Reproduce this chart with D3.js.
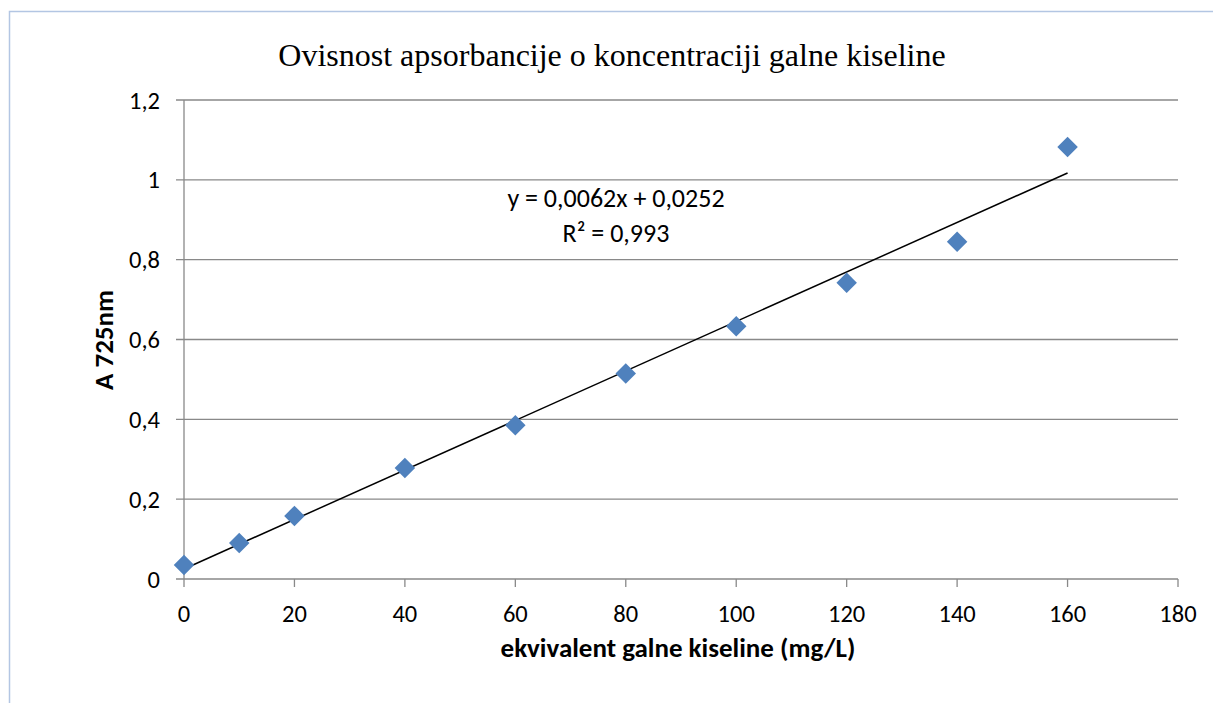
<!DOCTYPE html>
<html>
<head>
<meta charset="utf-8">
<script src="https://cdn.jsdelivr.net/npm/d3@7"></script>
<style>
  body { margin: 0; background: #fff; }
  svg { display: block; }
</style>
</head>
<body>
<script>
// concentration of gallic acid (mg/L) and absorbance at 725 nm
var conc = [0, 10, 20, 40, 60, 80, 100, 120, 140, 160];
var absorb = [0.035, 0.090, 0.158, 0.278, 0.385, 0.515, 0.633, 0.742, 0.845, 1.082];
var xTicks = [0, 20, 40, 60, 80, 100, 120, 140, 160, 180];
var yTicks = [0, 0.2, 0.4, 0.6, 0.8, 1, 1.2];
var slope = 0.0062;
var intercept = 0.0252;
var eqLines = ["y = 0,0062x + 0,0252", "R\u00b2 = 0,993"];

var W = 1213, H = 703;
var svg = d3.select("body").append("svg").attr("width", W).attr("height", H);

// outer chart border (light blue)
svg.append("rect")
  .attr("x", 9.5).attr("y", 11.5)
  .attr("width", W + 20).attr("height", H + 20)
  .attr("fill", "none").attr("stroke", "#b3c6e3").attr("stroke-width", 1.5);

var xScale = d3.scaleLinear().domain([0, 180]).range([184, 1178]);
var yScale = d3.scaleLinear().domain([0, 1.2]).range([579, 100]);
var fmt = function(v) { return String(+v.toFixed(1)).replace(".", ","); };

var grid = "#898989";

// horizontal gridlines (with the small left tick)
svg.selectAll("line.grid").data(yTicks).enter().append("line")
  .attr("class", "grid")
  .attr("x1", 176).attr("x2", 1178)
  .attr("y1", function(d) { return yScale(d); })
  .attr("y2", function(d) { return yScale(d); })
  .attr("stroke", grid).attr("stroke-width", 1.3);

// y axis line
svg.append("line")
  .attr("x1", 184).attr("x2", 184).attr("y1", 100).attr("y2", 579)
  .attr("stroke", grid).attr("stroke-width", 1.3);

// x ticks
svg.selectAll("line.xt").data(xTicks).enter().append("line")
  .attr("class", "xt")
  .attr("x1", function(d) { return xScale(d); })
  .attr("x2", function(d) { return xScale(d); })
  .attr("y1", 579).attr("y2", 587)
  .attr("stroke", grid).attr("stroke-width", 1.3);

var sans = "Carlito, 'Open Sans', 'Liberation Sans', sans-serif";

// tick labels
svg.selectAll("text.xl").data(xTicks).enter().append("text")
  .attr("x", function(d) { return xScale(d); })
  .attr("y", 622)
  .attr("text-anchor", "middle")
  .style("font-family", sans).style("font-size", "24.5px")
  .text(function(d) { return d; });

svg.selectAll("text.yl").data(yTicks).enter().append("text")
  .attr("x", 160)
  .attr("y", function(d) { return yScale(d) + 8.5; })
  .attr("text-anchor", "end")
  .style("font-family", sans).style("font-size", "24.5px")
  .text(function(d) { return fmt(d); });

// trend line
var line = d3.line()
  .x(function(d) { return xScale(d); })
  .y(function(d) { return yScale(slope * d + intercept); });
svg.append("path")
  .datum([0, 160])
  .attr("d", line)
  .attr("fill", "none").attr("stroke", "#000").attr("stroke-width", 1.5);

// diamond markers
var pts = conc.map(function(c, i) { return [c, absorb[i]]; });
svg.selectAll("path.pt").data(pts).enter().append("path")
  .attr("class", "pt")
  .attr("d", d3.symbol().type(d3.symbolSquare).size(210))
  .attr("transform", function(d) {
    return "translate(" + xScale(d[0]) + "," + yScale(d[1]) + ") rotate(45)";
  })
  .attr("fill", "#4f81bd");

// equation label
svg.selectAll("text.eq").data(eqLines).enter().append("text")
  .attr("x", 616)
  .attr("y", function(d, i) { return 207 + i * 35; })
  .attr("text-anchor", "middle")
  .style("font-family", sans).style("font-size", "26px")
  .text(function(d) { return d; });

// title
svg.append("text")
  .attr("x", 612).attr("y", 66)
  .attr("text-anchor", "middle")
  .style("font-family", "'Liberation Serif', 'Times New Roman', serif")
  .style("font-size", "32px")
  .text("Ovisnost apsorbancije o koncentraciji galne kiseline");

// axis titles
svg.append("text")
  .attr("x", 678).attr("y", 657)
  .attr("text-anchor", "middle")
  .style("font-family", sans).style("font-size", "27px").style("font-weight", "bold")
  .text("ekvivalent galne kiseline (mg/L)");

svg.append("text")
  .attr("transform", "translate(113,340) rotate(-90)")
  .attr("text-anchor", "middle")
  .style("font-family", sans).style("font-size", "27px").style("font-weight", "bold")
  .text("A 725nm");
</script>
</body>
</html>
